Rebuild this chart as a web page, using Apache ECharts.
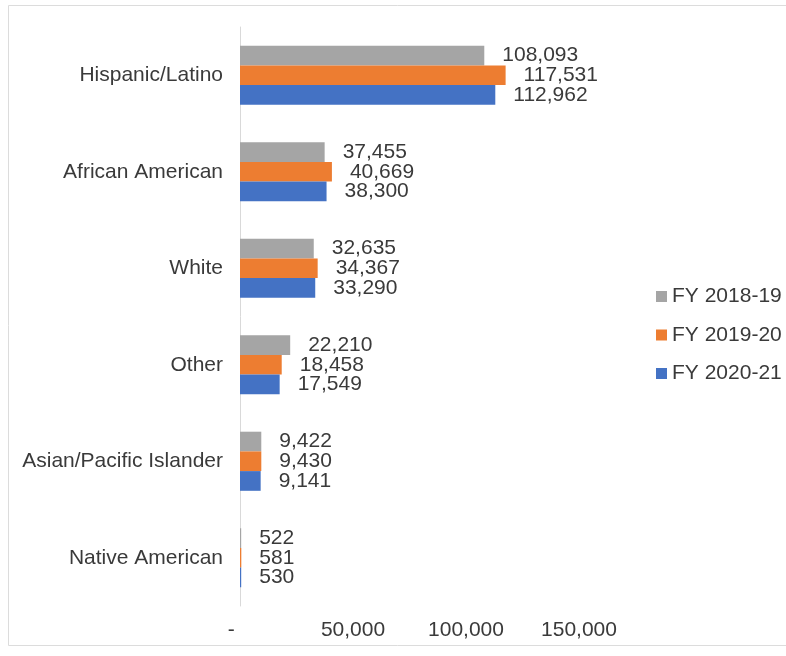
<!DOCTYPE html>
<html>
<head>
<meta charset="utf-8">
<script src="https://cdn.jsdelivr.net/npm/echarts@6/dist/echarts.min.js"></script>
<style>
html,body{margin:0;padding:0;background:#fff;}
#chart{width:786px;height:656px;}
</style>
</head>
<body>
<div id="chart"></div>
<script>
var categories = ['Hispanic/Latino', 'African American', 'White', 'Other', 'Asian/Pacific Islander', 'Native American'];
var seriesNames = ['FY 2018-19', 'FY 2019-20', 'FY 2020-21'];
var fy1819 = [108093, 37455, 32635, 22210, 9422, 522];
var fy1920 = [117531, 40669, 34367, 18458, 9430, 581];
var fy2021 = [112962, 38300, 33290, 17549, 9141, 530];
var xTicks = [0, 50000, 100000, 150000];

var colors = ['#a5a5a5', '#ed7d31', '#4472c4'];
var FONT = "'Liberation Sans', Arial, sans-serif";
var TXT = '#3a3a3a';

function fmt(v) {
  if (v === 0) return '-';
  return String(v).replace(/\B(?=(\d{3})+(?!\d))/g, ',');
}

function mkSeries(name, data, i) {
  return {
    name: name,
    type: 'bar',
    data: data,
    barWidth: 19.7,
    barGap: '0%',
    itemStyle: { color: colors[i] },
    label: {
      show: true,
      position: 'right',
      distance: 18,
      fontFamily: FONT,
      fontSize: 21,
      color: TXT,
      formatter: function (p) { return fmt(p.value); }
    }
  };
}

var chart = echarts.init(document.getElementById('chart'), null, { renderer: 'canvas' });
chart.setOption({
  backgroundColor: '#ffffff',
  animation: false,
  graphic: [{
    type: 'rect',
    shape: { x: 8.5, y: 5.5, width: 800, height: 640 },
    style: { fill: 'none', stroke: '#dcdcdc', lineWidth: 1 },
    z: -1
  }],
  legend: {
    orient: 'vertical',
    left: 651,
    top: 281,
    itemWidth: 11,
    itemHeight: 11,
    itemGap: 17.5,
    icon: 'rect',
    data: seriesNames,
    textStyle: { fontFamily: FONT, fontSize: 21, color: TXT }
  },
  grid: { left: 240, right: 207, top: 27, bottom: 50, containLabel: false },
  xAxis: {
    type: 'value',
    min: xTicks[0],
    max: xTicks[xTicks.length - 1],
    interval: xTicks[1] - xTicks[0],
    axisLine: { show: false },
    axisTick: { show: false },
    splitLine: { show: false },
    axisLabel: {
      margin: 14,
      fontFamily: FONT,
      fontSize: 21,
      color: TXT,
      formatter: function (v) { return v === 0 ? '-   ' : fmt(v); }
    }
  },
  yAxis: {
    type: 'category',
    data: categories,
    inverse: true,
    axisLine: { show: true, lineStyle: { color: '#d9d9d9', width: 1 } },
    axisTick: { show: false },
    axisLabel: { margin: 17, fontFamily: FONT, fontSize: 21, color: TXT }
  },
  series: [
    mkSeries(seriesNames[0], fy1819, 0),
    mkSeries(seriesNames[1], fy1920, 1),
    mkSeries(seriesNames[2], fy2021, 2)
  ]
});
</script>
</body>
</html>
